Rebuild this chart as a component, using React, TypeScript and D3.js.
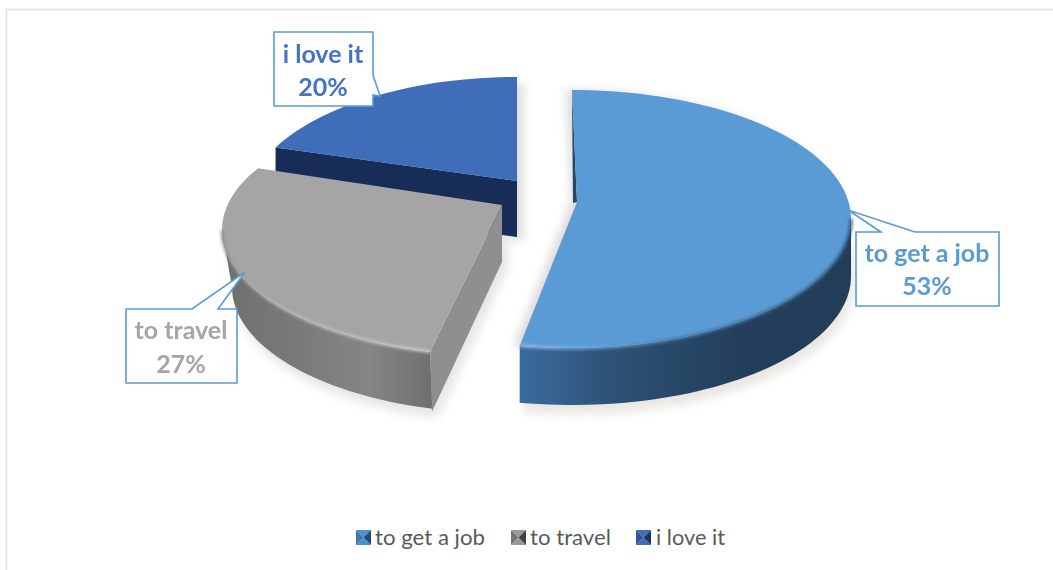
import React from "react";
import * as d3 from "d3";

// Survey shares, in percent, clockwise from twelve o'clock
const categories = ["to get a job", "to travel", "i love it"];
const shares = [53, 27, 20];

const topColors = ["#5b9bd5", "#a5a5a5", "#3f6dba"];
const labelColors = ["#5b9bd5", "#a5a5a5", "#4472c4"];

// Swatch facets per category: top/bottom, left, right
const swatchFacets = [
  ["#4f8fc8", "#3f78ac", "#1f4e79"],
  ["#9a9a9a", "#757575", "#3f3f3f"],
  ["#3f6dba", "#305596", "#1a3160"],
];

const deg = Math.PI / 180;
const WALL = 57;

// Perspective placement of every exploded wedge; skews are the degrees the
// projection adds to the true start and end angle of the wedge, and floorRx
// is the narrower horizontal radius of the rim at the foot of the wall.
const wedgeFrames = [
  { apex: [577, 202], center: [572, 219], rx: 279, ry: 129, floorRx: 279, startSkew: 0, endSkew: 0, wall: [90, null] },
  { apex: [502, 205], center: [502, 230], rx: 280, ry: 126, floorRx: 270, startSkew: 4.1, endSkew: 11.4, wall: [null, 270] },
  { apex: [517, 181], center: [517, 206], rx: 271, ry: 129, floorRx: 271, startSkew: 9, endSkew: 0, wall: null },
];

const pieAngles = d3.pie<number>().sort(null).value((d) => d)(shares);

type Frame = (typeof wedgeFrames)[number];

const rimPoint = (f: Frame, a: number): [number, number] => [
  f.center[0] + f.rx * Math.sin(a * deg),
  f.center[1] - f.ry * Math.cos(a * deg),
];

const rimPoints = (f: Frame, a0: number, a1: number): [number, number][] => {
  const n = Math.max(2, Math.ceil(Math.abs(a1 - a0) / 2));
  return d3.range(n + 1).map((i) => rimPoint(f, a0 + ((a1 - a0) * i) / n));
};

const line = d3.line();
const closed = (pts: [number, number][]) => line(pts) + "Z";

const wedges = pieAngles.map((p, i) => {
  const f = wedgeFrames[i];
  const a0 = p.startAngle / deg + f.startSkew;
  const a1 = p.endAngle / deg + f.endSkew;
  const rim = rimPoints(f, a0, a1);
  const apex = f.apex as [number, number];
  const top = closed([apex, ...rim]);
  let wallPath: string | null = null;
  let edgePath: string | null = null;
  if (f.wall) {
    const w0 = f.wall[0] ?? a0;
    const w1 = f.wall[1] ?? a1;
    const upper = rimPoints(f, w0, w1);
    const lower = upper
      .map(([x, y]) => [f.center[0] + ((x - f.center[0]) * f.floorRx) / f.rx, y + WALL] as [number, number])
      .reverse();
    wallPath = closed([...upper, ...lower]);
    edgePath = line(upper);
  }
  return { a0, a1, rim, apex, top, wallPath, edgePath, f };
});

// Straight cut faces exposed by the explosion
const [jobW, travelW, loveW] = wedges;
const jobCut = closed([jobW.rim[0], jobW.apex, [jobW.apex[0] - 4, jobW.apex[1] + 1], [jobW.rim[0][0], jobW.rim[0][1] + 4]]);
const travelCorner = travelW.rim[0];
const travelCut = closed([
  travelW.apex,
  travelCorner,
  [travelCorner[0] + 2, travelCorner[1] + WALL + 3],
  [travelW.apex[0], travelW.apex[1] + WALL],
]);
const loveCorner = loveW.rim[0];
const loveCut = closed([
  loveCorner,
  loveW.apex,
  [loveW.apex[0], loveW.apex[1] + WALL - 1],
  [loveCorner[0], loveCorner[1] + WALL - 1],
]);

// Callout boxes with a wedge pointing at the slice
const callouts = [
  {
    box: [856, 232, 999, 306], tip: [848, 210], wedge: ["top", 881, 915],
    text: [927, 262, 295],
  },
  {
    box: [126, 309, 237, 383], tip: [245, 272], wedge: ["top", 192, 218],
    text: [181, 339, 373],
  },
  {
    box: [274, 32, 373, 106], tip: [380, 96], wedge: ["right", 75, 95],
    text: [323, 63, 96],
  },
];

const calloutPath = (c: (typeof callouts)[number]) => {
  const [x0, y0, x1, y1] = c.box;
  const [tx, ty] = c.tip;
  const a = c.wedge[1] as number;
  const b = c.wedge[2] as number;
  if (c.wedge[0] === "top") {
    return `M${x0},${y0}L${a},${y0}L${tx},${ty}L${b},${y0}L${x1},${y0}L${x1},${y1}L${x0},${y1}Z`;
  }
  return `M${x0},${y0}L${x1},${y0}L${x1},${a}L${tx},${ty}L${x1},${b}L${x1},${y1}L${x0},${y1}Z`;
};

// Legend layout
const legendSwatchX = [356, 511, 636];
const legendTextX = [375, 530, 656];
const legendTextLen = [110, 81, 69];

const swatch = (x: number, y: number, s: number, c: string[], key: number) => {
  const m: [number, number] = [x + s / 2, y + s / 2];
  const tl: [number, number] = [x, y];
  const tr: [number, number] = [x + s, y];
  const br: [number, number] = [x + s, y + s];
  const bl: [number, number] = [x, y + s];
  return (
    <g key={key} filter="url(#soft)">
      <path d={closed([tl, tr, m])} fill={c[0]} />
      <path d={closed([bl, br, m])} fill={c[0]} />
      <path d={closed([tl, bl, m])} fill={c[1]} />
      <path d={closed([tr, br, m])} fill={c[2]} />
    </g>
  );
};

const LABEL_FONT = "Lato, Carlito, sans-serif";

export default function App() {
  return (
    <svg
      width={1053}
      height={570}
      style={{ position: "absolute", left: 0, top: 0, background: "#fff" }}
    >
      <defs>
        <filter id="soft" x="-20%" y="-20%" width="140%" height="140%">
          <feGaussianBlur stdDeviation={0.6} />
        </filter>
        <filter id="edge" x="-5%" y="-5%" width="110%" height="110%">
          <feGaussianBlur stdDeviation={1.7} />
        </filter>
        <filter id="drop" x="-10%" y="-10%" width="120%" height="120%">
          <feGaussianBlur stdDeviation={5} />
        </filter>
        <linearGradient id="jobWall" gradientUnits="userSpaceOnUse" x1={520} x2={851} y1={0} y2={0}>
          <stop offset="0" stopColor="#3a6b9e" />
          <stop offset="0.3" stopColor="#2d5074" />
          <stop offset="0.65" stopColor="#233f5c" />
          <stop offset="1" stopColor="#213d58" />
        </linearGradient>
        <linearGradient id="travelWall" gradientUnits="userSpaceOnUse" x1={222} x2={432} y1={0} y2={0}>
          <stop offset="0" stopColor="#6f6f6f" />
          <stop offset="0.3" stopColor="#787878" />
          <stop offset="0.7" stopColor="#858585" />
          <stop offset="1" stopColor="#6f6f6f" />
        </linearGradient>
        <linearGradient id="jobEdge" gradientUnits="userSpaceOnUse" x1={520} x2={851} y1={0} y2={0}>
          <stop offset="0" stopColor="#8fbbe6" />
          <stop offset="0.2" stopColor="#6ea6da" />
          <stop offset="0.45" stopColor="#4a7fae" />
          <stop offset="1" stopColor="#2f5578" />
        </linearGradient>
        <linearGradient id="travelEdge" gradientUnits="userSpaceOnUse" x1={222} x2={432} y1={0} y2={0}>
          <stop offset="0" stopColor="#8a8a8a" />
          <stop offset="0.2" stopColor="#b4b4b4" />
          <stop offset="1" stopColor="#d4d4d4" />
        </linearGradient>
      </defs>

      {/* Card outline: only the top and left edges fall inside the frame */}
      <path d="M6.5,570V9.5H1053" fill="none" stroke="#dedede" strokeWidth={1.6} />

      {/* Soft ground shadows */}
      <g filter="url(#drop)" opacity={0.32}>
        <path d={loveW.top} fill="#9a9a9a" transform="translate(7,6)" />
        <path d={loveCut} fill="#9a9a9a" transform="translate(7,4)" />
        {travelW.wallPath && <path d={travelW.wallPath} fill="#b5b0a8" transform="translate(4,9)" />}
        <path d={travelCut} fill="#b5b0a8" transform="translate(6,6)" />
        {jobW.wallPath && <path d={jobW.wallPath} fill="#b9b0a4" transform="translate(3,9)" />}
        <path d={jobW.top} fill="#8f8f8f" transform="translate(-6,0)" />
      </g>

      {/* Back slice first, then the two that overlap it */}
      <path d={loveCut} fill="#172c56" />
      <path d={loveW.top} fill={topColors[2]} />

      {travelW.wallPath && <path d={travelW.wallPath} fill="url(#travelWall)" />}
      <path d={travelCut} fill="#8f8f8f" />
      <path d={travelW.top} fill={topColors[1]} />
      {travelW.edgePath && (
        <path d={travelW.edgePath} fill="none" stroke="url(#travelEdge)" strokeWidth={2.5} filter="url(#edge)" />
      )}

      {jobW.wallPath && <path d={jobW.wallPath} fill="url(#jobWall)" />}
      <path d={jobCut} fill="#24486a" />
      <path d={jobW.top} fill={topColors[0]} />
      {jobW.edgePath && (
        <path d={jobW.edgePath} fill="none" stroke="url(#jobEdge)" strokeWidth={3} filter="url(#edge)" />
      )}

      {/* Value callouts */}
      {callouts.map((c, i) => (
        <g key={categories[i]}>
          <path d={calloutPath(c)} fill="#fff" stroke="#5b9bd5" strokeWidth={1.6} strokeLinejoin="miter" />
          <g
            fontFamily={LABEL_FONT}
            fontWeight={700}
            fontSize={25}
            fill={labelColors[i]}
            textAnchor="middle"
          >
            <text x={c.text[0]} y={c.text[1]}>{categories[i]}</text>
            <text x={c.text[0]} y={c.text[2]}>{shares[i]}%</text>
          </g>
        </g>
      ))}

      {/* Legend */}
      {categories.map((name, i) => (
        <g key={name}>
          {swatch(legendSwatchX[i], 530, 15, swatchFacets[i], i)}
          <text
            x={legendTextX[i]}
            y={545}
            fontFamily={LABEL_FONT}
            fontSize={21}
            fill="#595959"
            textLength={legendTextLen[i]}
            lengthAdjust="spacingAndGlyphs"
          >
            {name}
          </text>
        </g>
      ))}
    </svg>
  );
}
